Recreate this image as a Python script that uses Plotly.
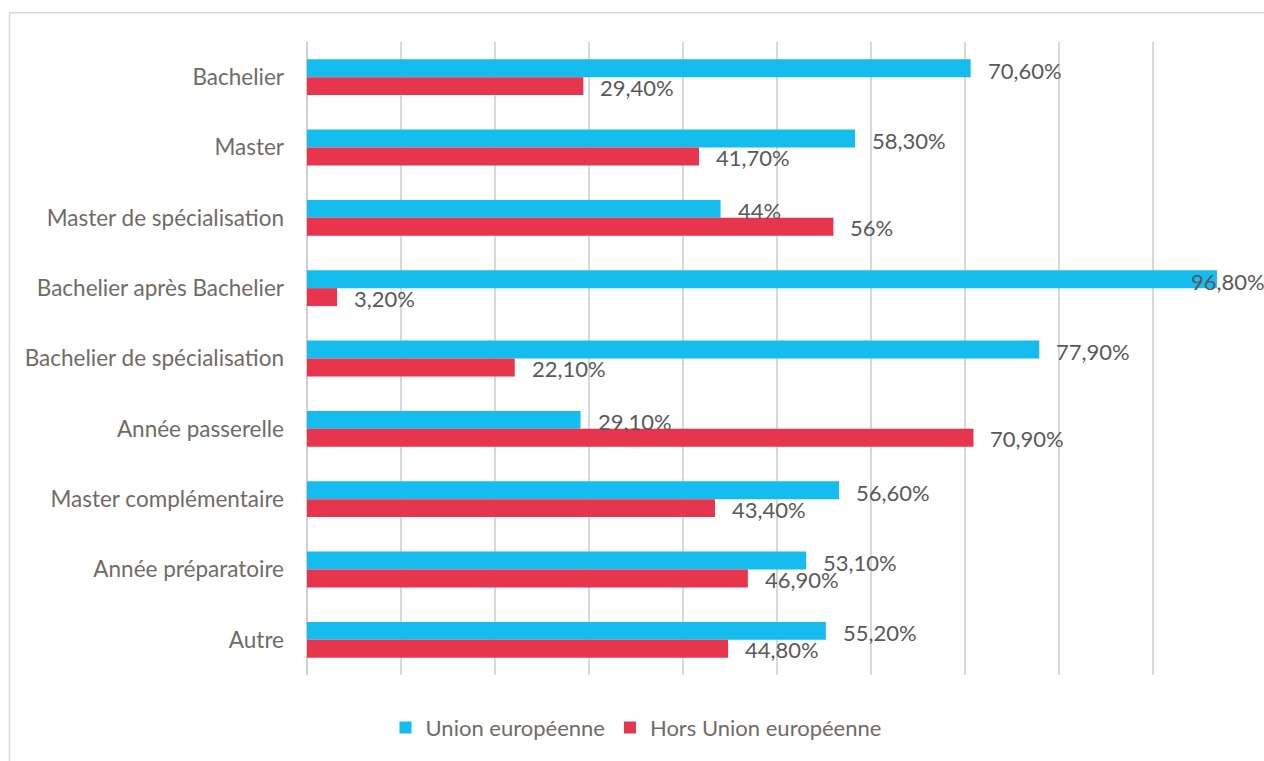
import plotly.graph_objects as go

# Répartition des étudiants par type de programme
categories = [
    "Bachelier",
    "Master",
    "Master de spécialisation",
    "Bachelier après Bachelier",
    "Bachelier de spécialisation",
    "Année passerelle",
    "Master complémentaire",
    "Année préparatoire",
    "Autre",
]
union_eu = [70.6, 58.3, 44, 96.8, 77.9, 29.1, 56.6, 53.1, 55.2]
hors_eu = [29.4, 41.7, 56, 3.2, 22.1, 70.9, 43.4, 46.9, 44.8]

series_names = ["Union européenne", "Hors Union européenne"]
series_colors = ["#15BCEE", "#E8354E"]

FONT = "Lato"
FSIZE = 22
LABEL_COLOR = "#706b67"
VALUE_COLOR = "#595959"


def fmt(v):
    if float(v).is_integer():
        return f"{int(v)}%"
    return f"{v:.2f}".replace(".", ",") + "%"


fig = go.Figure()
for name, vals, col in zip(series_names, [union_eu, hors_eu], series_colors):
    fig.add_trace(go.Bar(
        y=categories, x=vals, name=name, orientation="h",
        marker=dict(color=col, line=dict(width=0)),
        hoverinfo="skip",
    ))

# value labels beside each bar
annotations = []
for vals, yshift in [(union_eu, 7), (hors_eu, -10)]:
    for cat, v in zip(categories, vals):
        if v > 90:
            ann = dict(x=100, xanchor="right", xshift=20)
        else:
            ann = dict(x=v, xanchor="left", xshift=15)
        ann.update(
            y=cat, xref="x", yref="y", yshift=yshift, yanchor="middle",
            text=fmt(v), showarrow=False,
            font=dict(family=FONT, size=FSIZE, color=VALUE_COLOR),
        )
        annotations.append(ann)

L, R, T, B = 307, 1247, 42, 678
W, H = 1264, 761
pw, ph = R - L, B - T


def px_x(x):
    return (x - L) / pw


def px_y(y):
    return (B - y) / ph


# chart frame
shapes = [dict(
    type="rect", xref="paper", yref="paper",
    x0=px_x(9.5), x1=px_x(1275), y0=px_y(775), y1=px_y(12.5),
    line=dict(color="#d9d9d9", width=1.5), fillcolor="rgba(0,0,0,0)", layer="below",
)]

fig.update_layout(
    width=W, height=H,
    margin=dict(l=L, r=W - R, t=T, b=H - B),
    paper_bgcolor="white", plot_bgcolor="white",
    barmode="group", bargap=0.49, bargroupgap=0,
    font=dict(family=FONT, size=FSIZE, color=LABEL_COLOR),
    xaxis=dict(
        range=[0, 100], dtick=10, showticklabels=False,
        showgrid=True, gridcolor="#d9d9d9", gridwidth=1.5,
        zeroline=True, zerolinecolor="#d0d0d0", zerolinewidth=1.5,
        showline=False, fixedrange=True,
    ),
    yaxis=dict(
        autorange="reversed", showgrid=False, showline=False,
        ticks="", ticklabelstandoff=22,
        tickfont=dict(family=FONT, size=22.5, color=LABEL_COLOR),
    ),
    legend=dict(
        orientation="h", x=px_x(636), xanchor="center",
        y=px_y(731), yanchor="middle",
        font=dict(family=FONT, size=FSIZE, color=LABEL_COLOR),
        traceorder="normal",
    ),
    annotations=annotations,
    shapes=shapes,
)

fig.write_html("out.html")
